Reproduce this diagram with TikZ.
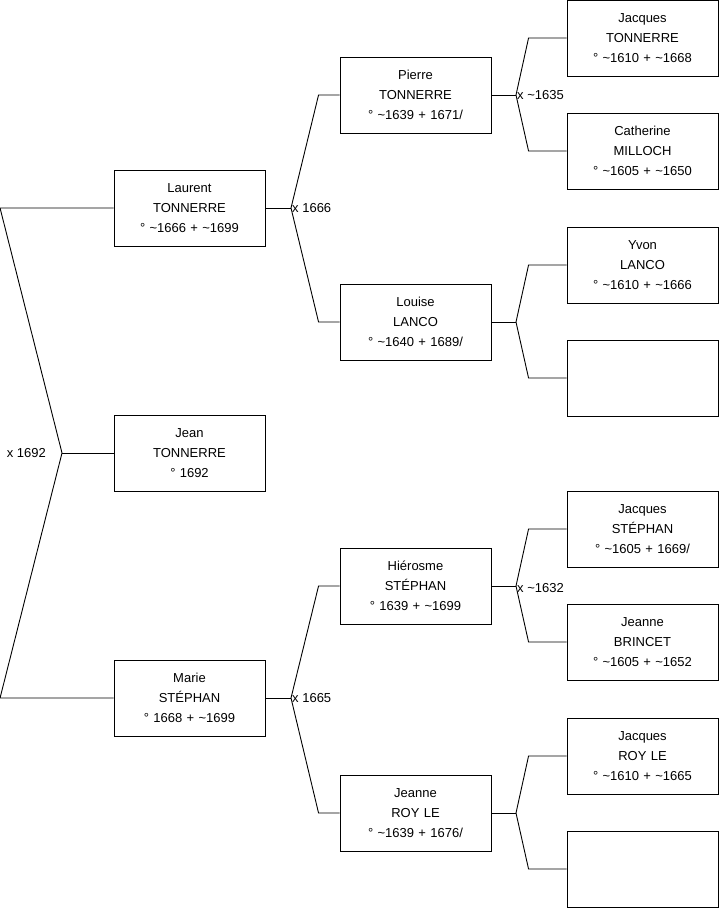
\documentclass[tikz,border=0pt]{standalone}
\usepackage{fontspec}
\setmainfont{Liberation Sans}
\usetikzlibrary{positioning}

\begin{document}
\begin{tikzpicture}[
  x=1pt,y=-1pt,
  personne/.style={rectangle,draw=black,line width=0.9pt,
    minimum width=151pt,minimum height=76pt,inner sep=0pt,
    text width=145pt,align=center,font=\fontsize{13}{20}\selectfont},
  lien/.style={draw=black,line width=0.9pt},
  mariage/.style={font=\fontsize{13}{14}\selectfont,inner sep=1pt}
]
\useasboundingbox (0,0) rectangle (719,908);
% generation 1 and 2
\node[personne] (laurent) at (189.5,208) {Laurent\\TONNERRE\\° \textasciitilde1666 + \textasciitilde1699};
\node[personne] (jean) at (189.5,453) {Jean\\TONNERRE\\° 1692};
\node[personne] (marie) at (189.5,698) {Marie\\STÉPHAN\\° 1668 + \textasciitilde1699};
\node[personne] (pierre) at (415.5,95) {Pierre\\TONNERRE\\° \textasciitilde1639 + 1671/};
\node[personne] (louise) at (415.5,322) {Louise\\LANCO\\° \textasciitilde1640 + 1689/};
\node[personne] (hierosme) at (415.5,586) {Hiérosme\\STÉPHAN\\° 1639 + \textasciitilde1699};
\node[personne] (jeanne) at (415.5,813) {Jeanne\\ROY LE\\° \textasciitilde1639 + 1676/};
% generation 3
\node[personne] (jacquesT) at (642.5,38) {Jacques\\TONNERRE\\° \textasciitilde1610 + \textasciitilde1668};
\node[personne] (catherine) at (642.5,151) {Catherine\\MILLOCH\\° \textasciitilde1605 + \textasciitilde1650};
\node[personne] (yvon) at (642.5,265) {Yvon\\LANCO\\° \textasciitilde1610 + \textasciitilde1666};
\node[personne] (videA) at (642.5,378) {};
\node[personne] (jacquesS) at (642.5,529) {Jacques\\STÉPHAN\\° \textasciitilde1605 + 1669/};
\node[personne] (jeanneB) at (642.5,642) {Jeanne\\BRINCET\\° \textasciitilde1605 + \textasciitilde1652};
\node[personne] (jacquesR) at (642.5,756) {Jacques\\ROY LE\\° \textasciitilde1610 + \textasciitilde1665};
\node[personne] (videB) at (642.5,869) {};
% junctions
\coordinate (j0) at (62,453);
\coordinate (j1) at (291,208);
\coordinate (j2) at (291,698);
\coordinate (j3) at (516,95);
\coordinate (j4) at (516,322);
\coordinate (j5) at (516,586);
\coordinate (j6) at (516,813);
\draw[lien] (laurent.west) -- ++(-113.5,0) -- (j0) -- ([xshift=-113.5]marie.west) -- (marie.west);
\draw[lien] (j0) -- (jean.west);
\foreach \p/\j/\a/\b/\d in {laurent/j1/pierre/louise/21,marie/j2/hierosme/jeanne/21,
    pierre/j3/jacquesT/catherine/38,louise/j4/yvon/videA/38,
    hierosme/j5/jacquesS/jeanneB/38,jeanne/j6/jacquesR/videB/38}{
  \draw[lien] (\p.east) -- (\j);
  \draw[lien] (\a.west) -- ++(-\d,0) -- (\j) -- ([xshift=-\d]\b.west) -- (\b.west);
}
% marriages
\node[mariage,anchor=east] (m0) at ([xshift=-15]j0) {x 1692};
\node[mariage,anchor=west] (m1) at (j1) {x 1666};
\node[mariage,anchor=west] (m2) at (j2) {x 1665};
\node[mariage,anchor=west] (m3) at (j3) {x \textasciitilde1635};
\node[mariage,anchor=west] (m5) at ([yshift=-2]j5) {x \textasciitilde1632};
\end{tikzpicture}
\end{document}
